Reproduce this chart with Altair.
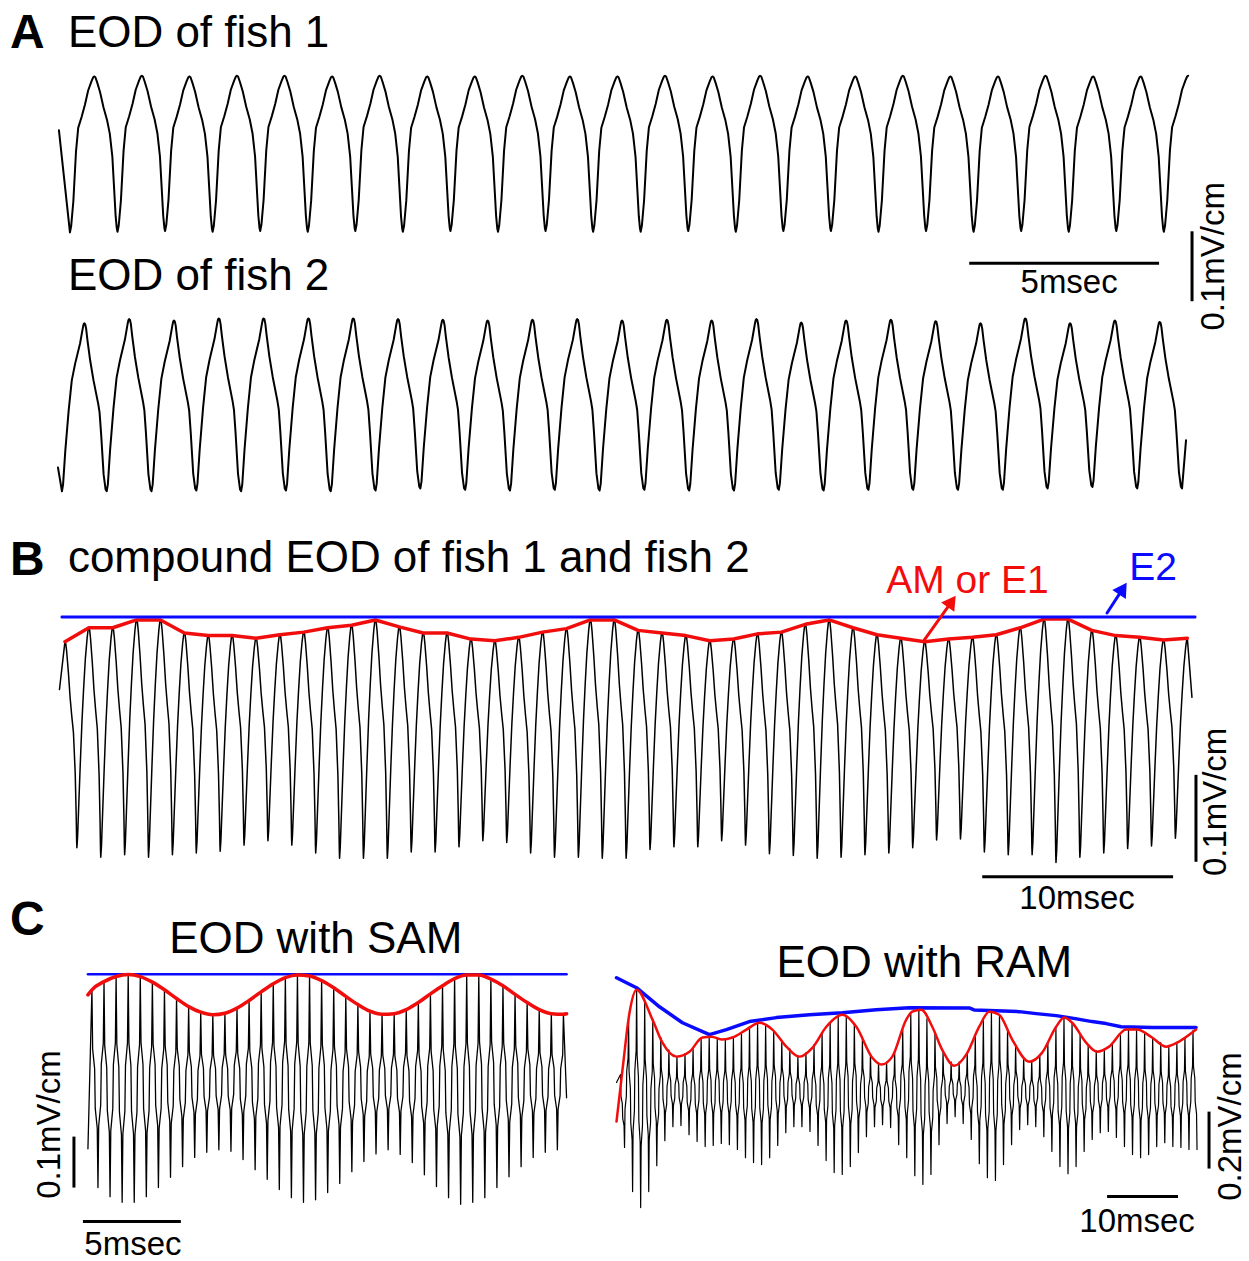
import altair as alt
import pandas as pd

FONT = "Liberation Sans"

# ====================== DATA ======================
# time in ms, field in mV/cm

# ---- Panel A: EOD of fish 1 (troughs then peaks) ----
fish1_t0 = 0.316          # first trough (ms)
fish1_period = 1.2526     # EOD period (ms)
fish1_peak_delay = 0.639  # peak after trough (ms)
fish1_trough = [-0.113, -0.112, -0.111, -0.112, -0.111, -0.112, -0.111, -0.112,
                -0.111, -0.112, -0.111, -0.112, -0.112, -0.111, -0.112, -0.111,
                -0.111, -0.112, -0.111, -0.112, -0.111, -0.112, -0.111, -0.112]
fish1_peak = [0.110, 0.111, 0.110, 0.111, 0.111, 0.110, 0.111, 0.110,
              0.110, 0.111, 0.110, 0.110, 0.111, 0.110, 0.111, 0.110,
              0.110, 0.111, 0.110, 0.110, 0.111, 0.110, 0.110, 0.111]
fish1_head = (0.026, 0.033)
fish1_rise = [(0, 0), (0.05, 0.04), (0.14, 0.20), (0.25, 0.52), (0.34, 0.67),
              (0.48, 0.74), (0.62, 0.82), (0.75, 0.91), (0.89, 0.97), (0.96, 0.995), (1, 1)]
fish1_fall = [(0, 1), (0.05, 0.995), (0.13, 0.96), (0.25, 0.90), (0.40, 0.80),
              (0.55, 0.72), (0.67, 0.63), (0.78, 0.48), (0.85, 0.29), (0.92, 0.10),
              (0.97, 0.02), (1, 0)]

# ---- Panel A: EOD of fish 2 ----
fish2_t0 = 0.105
fish2_period = 1.180
fish2_peak_delay = 0.589
fish2_trough = [-0.123, -0.123, -0.123, -0.122, -0.123, -0.122, -0.123, -0.122,
                -0.119, -0.121, -0.122, -0.121, -0.122, -0.121, -0.122, -0.122,
                -0.121, -0.122, -0.121, -0.121, -0.121, -0.121, -0.119, -0.117,
                -0.119, -0.119]
fish2_peak = [0.117, 0.123, 0.121, 0.124, 0.124, 0.124, 0.124, 0.123, 0.122,
              0.121, 0.122, 0.123, 0.121, 0.122, 0.121, 0.123, 0.118, 0.121,
              0.122, 0.120, 0.117, 0.124, 0.117, 0.121, 0.119]
fish2_head = (0.0, -0.089)
fish2_tail = (29.71, -0.050)
fish2_rise = [(0, 0), (0.05, 0.04), (0.15, 0.24), (0.30, 0.48), (0.44, 0.66),
              (0.59, 0.76), (0.81, 0.88), (0.93, 0.97), (0.97, 0.995), (1, 1)]
fish2_fall = [(0, 1), (0.04, 0.995), (0.08, 0.97), (0.14, 0.90), (0.26, 0.78), (0.41, 0.66),
              (0.62, 0.52), (0.68, 0.47), (0.75, 0.34), (0.86, 0.10), (0.95, 0.01), (1, 0)]

# ---- Panel B: compound EOD (peaks then troughs) ----
b_t0 = 0.3665
b_period = 1.2513
b_trough_delay = 0.6257
b_peak = [0.113, 0.129, 0.129, 0.138, 0.138, 0.123, 0.120, 0.120, 0.117, 0.121,
          0.124, 0.129, 0.132, 0.138, 0.130, 0.123, 0.123, 0.116, 0.114, 0.118,
          0.124, 0.128, 0.138, 0.138, 0.126, 0.123, 0.120, 0.114, 0.116, 0.122,
          0.124, 0.133, 0.138, 0.129, 0.121, 0.117, 0.113, 0.116, 0.118, 0.121,
          0.129, 0.139, 0.139, 0.126, 0.120, 0.118, 0.115, 0.117]
b_trough = [-0.124, -0.135, -0.132, -0.135, -0.132, -0.130, -0.128, -0.121, -0.116, -0.121,
            -0.130, -0.136, -0.136, -0.136, -0.129, -0.129, -0.123, -0.116, -0.118, -0.130,
            -0.135, -0.135, -0.136, -0.136, -0.126, -0.123, -0.123, -0.116, -0.121, -0.131,
            -0.133, -0.136, -0.135, -0.132, -0.130, -0.124, -0.115, -0.114, -0.129, -0.132,
            -0.132, -0.141, -0.135, -0.130, -0.125, -0.122, -0.113]
b_head = (0.079, 0.058)
b_tail = (59.42, 0.049)
b_e2_level = 0.1414
b_e2_span = (0.21, 59.58)
b_rise = [(0, 0), (0.06, 0.05), (0.14, 0.17), (0.29, 0.39), (0.43, 0.58),
          (0.57, 0.73), (0.71, 0.86), (0.86, 0.955), (0.95, 0.995), (1, 1)]
b_fall = [(0, 1), (0.07, 0.99), (0.14, 0.955), (0.29, 0.85), (0.43, 0.73),
          (0.57, 0.64), (0.71, 0.56), (0.86, 0.36), (0.94, 0.16), (0.98, 0.03), (1, 0)]

# ---- Panel C: waveform of the fast-sampled traces (steep strokes with mid-level jogs) ----
c_rise = [(0, 0), (0.12, 0.30), (0.45, 0.40), (0.55, 0.60), (0.88, 0.70), (1, 1)]
c_fall = [(0, 1), (0.12, 0.70), (0.45, 0.60), (0.55, 0.40), (0.88, 0.30), (1, 0)]

# ---- Panel C: EOD with SAM ----
sam_t0 = 0.204
sam_period = 0.6173
sam_trough_delay = 0.3087
sam_peak = [0.192, 0.208, 0.218, 0.222, 0.218, 0.207, 0.192, 0.175, 0.159, 0.148,
            0.143, 0.146, 0.156, 0.171, 0.188, 0.204, 0.216, 0.221, 0.219, 0.210,
            0.196, 0.179, 0.163, 0.150, 0.144, 0.145, 0.153, 0.167, 0.184, 0.200,
            0.214, 0.221, 0.221, 0.213, 0.200, 0.183, 0.167, 0.153, 0.145, 0.144]
sam_trough = [-0.196, -0.214, -0.225, -0.225, -0.214, -0.196, -0.176, -0.155, -0.137, -0.127,
              -0.122, -0.125, -0.141, -0.161, -0.180, -0.200, -0.216, -0.225, -0.220, -0.206,
              -0.188, -0.165, -0.145, -0.130, -0.122, -0.131, -0.147, -0.171, -0.194, -0.216,
              -0.229, -0.225, -0.216, -0.196, -0.175, -0.155, -0.137, -0.127, -0.122]
sam_head = (0.0, -0.120)
sam_tail = (24.44, -0.020)
sam_env_head = (0.0, 0.182)
sam_env_tail = (24.44, 0.145)
sam_e2_level = 0.2225
sam_e2_span = (0.0, 24.44)

# ---- Panel C: EOD with RAM ----
ram_t0 = 0.563
ram_period = 1.1366
ram_trough_delay = 0.568
ram_peak = [0.088, 0.281, 0.386, 0.340, 0.281, 0.218, 0.175, 0.151, 0.161, 0.182,
            0.214, 0.221, 0.214, 0.211, 0.218, 0.235, 0.253, 0.267, 0.260, 0.242,
            0.207, 0.179, 0.154, 0.165, 0.193, 0.235, 0.267, 0.291, 0.291, 0.263,
            0.214, 0.161, 0.130, 0.133, 0.168, 0.246, 0.302, 0.316, 0.284, 0.232,
            0.168, 0.133, 0.133, 0.165, 0.228, 0.281, 0.309, 0.298, 0.246, 0.189,
            0.147, 0.137, 0.158, 0.200, 0.249, 0.288, 0.270, 0.232, 0.193, 0.172,
            0.175, 0.196, 0.225, 0.246, 0.246, 0.232, 0.218, 0.200, 0.186, 0.200,
            0.218, 0.242]
ram_trough = [-0.168, -0.323, -0.379, -0.323, -0.232, -0.144, -0.095, -0.091, -0.123, -0.147,
              -0.165, -0.161, -0.154, -0.158, -0.175, -0.204, -0.221, -0.228, -0.204, -0.161,
              -0.116, -0.095, -0.095, -0.112, -0.161, -0.214, -0.256, -0.263, -0.235, -0.186,
              -0.130, -0.095, -0.088, -0.098, -0.158, -0.204, -0.267, -0.298, -0.263, -0.158,
              -0.084, -0.060, -0.084, -0.140, -0.225, -0.274, -0.284, -0.228, -0.158, -0.105,
              -0.088, -0.095, -0.130, -0.182, -0.235, -0.260, -0.235, -0.182, -0.140, -0.116,
              -0.112, -0.133, -0.165, -0.193, -0.204, -0.193, -0.165, -0.151, -0.165, -0.168,
              -0.175, -0.175]
ram_head = (0.0, 0.060)
ram_am_t = [0.0, 0.845, 1.831, 2.817, 5.07, 6.479, 8.451, 10.282, 12.113, 13.38,
            14.93, 16.338, 18.31, 20.141, 21.972, 23.944, 25.775, 27.606, 29.577, 31.831,
            33.803, 36.056, 37.324, 38.873, 40.845, 41.69, 42.958, 44.507, 45.915, 47.606,
            49.296, 51.127, 52.535, 53.944, 55.775, 58.169, 60.0, 61.972, 63.099, 64.225,
            66.197, 67.746, 69.437, 71.831, 73.38, 75.493, 77.465, 79.296, 81.69]
ram_am_v = [-0.077, 0.105, 0.305, 0.386, 0.281, 0.200, 0.151, 0.168, 0.218, 0.221,
            0.211, 0.218, 0.246, 0.270, 0.246, 0.186, 0.151, 0.182, 0.256, 0.298,
            0.256, 0.147, 0.123, 0.151, 0.281, 0.309, 0.316, 0.256, 0.175, 0.119,
            0.158, 0.256, 0.309, 0.298, 0.211, 0.133, 0.165, 0.256, 0.288, 0.270,
            0.200, 0.168, 0.186, 0.246, 0.246, 0.218, 0.186, 0.204, 0.246]
ram_e2_t = [0.0, 2.817, 6.056, 9.296, 13.099, 15.493, 18.732, 22.535, 27.183, 31.831,
            36.62, 41.268, 49.718, 50.4, 56.761, 59.155, 61.972, 63.803, 67.042, 69.014,
            71.127, 75.493, 81.69]
ram_e2_v = [0.428, 0.393, 0.326, 0.270, 0.228, 0.246, 0.274, 0.288, 0.298, 0.305,
            0.316, 0.323, 0.322, 0.315, 0.309, 0.302, 0.295, 0.288, 0.274, 0.267,
            0.256, 0.253, 0.253]

# scale-bar sizes
A_TIME_BAR, A_FIELD_BAR = 5.0, 0.1
B_TIME_BAR, B_FIELD_BAR = 10.0, 0.1
SAM_TIME_BAR, SAM_FIELD_BAR = 5.0, 0.1
RAM_TIME_BAR, RAM_FIELD_BAR = 10.0, 0.2


# ====================== helpers ======================
def extremes(t0, period, delay, first_vals, second_vals):
    pts = []
    for k in range(max(len(first_vals), len(second_vals))):
        if k < len(first_vals):
            pts.append((t0 + k * period, first_vals[k]))
        if k < len(second_vals):
            pts.append((t0 + k * period + delay, second_vals[k]))
    return pts


def waveform(ext, first_is_peak, rise, fall, head=None, tail=None):
    pts = [head] if head else []
    for i in range(len(ext) - 1):
        (t0, v0), (t1, v1) = ext[i], ext[i + 1]
        from_peak = (i % 2 == 0) == first_is_peak
        for u, s in (fall if from_peak else rise)[:-1]:
            t = t0 + u * (t1 - t0)
            v = v1 + s * (v0 - v1) if from_peak else v0 + s * (v1 - v0)
            pts.append((t, v))
    pts.append(ext[-1])
    if tail:
        pts.append(tail)
    df = pd.DataFrame(pts, columns=["t", "v"])
    df["i"] = range(len(df))
    return df


def series(ts, vs):
    df = pd.DataFrame({"t": ts, "v": vs})
    df["i"] = range(len(df))
    return df


class Panel:
    def __init__(self, xdom, ydom, width, height):
        self.xs = alt.Scale(domain=xdom, zero=False, nice=False)
        self.ys = alt.Scale(domain=ydom, zero=False, nice=False)
        self.w, self.h = width, height
        self.layers = []

    def _xy(self):
        return dict(x=alt.X("t:Q", scale=self.xs, axis=None),
                    y=alt.Y("v:Q", scale=self.ys, axis=None))

    def line(self, df, color="black", width=1.5, interp="linear"):
        self.layers.append(
            alt.Chart(df).mark_line(color=color, strokeWidth=width, interpolate=interp,
                                    strokeJoin="round", strokeCap="round")
            .encode(order="i:Q", **self._xy()))

    def text(self, t, v, label, size, color="black", weight="normal",
             align="left", baseline="alphabetic", angle=0):
        df = pd.DataFrame({"t": [t], "v": [v], "label": [label]})
        self.layers.append(
            alt.Chart(df).mark_text(font=FONT, fontSize=size, fontWeight=weight, color=color,
                                    align=align, baseline=baseline, angle=angle)
            .encode(text="label:N", **self._xy()))

    def rule(self, t1, t2, v1, v2, color="black", width=3):
        df = pd.DataFrame({"t": [t1], "t2": [t2], "v": [v1], "v2": [v2]})
        self.layers.append(
            alt.Chart(df).mark_rule(color=color, strokeWidth=width)
            .encode(x2="t2:Q", y2="v2:Q", **self._xy()))

    def arrow(self, t1, v1, t2, v2, angle, color):
        self.line(series([t1, t2], [v1, v2]), color=color, width=3)
        df = pd.DataFrame({"t": [t2], "v": [v2]})
        self.layers.append(
            alt.Chart(df).mark_point(shape="triangle-up", filled=True, size=260, angle=angle,
                                     color=color, opacity=1, strokeWidth=0)
            .encode(**self._xy()))

    def chart(self):
        return alt.layer(*self.layers).properties(width=self.w, height=self.h)


RED = "#f20d0d"
BLUE = "#0a0aff"

# ====================== Panel A (two rows) ======================
A_X = [-1.5263, 31.342]
a1 = Panel(A_X, [-0.15286, 0.21857], 1249, 260)
f1_ext = extremes(fish1_t0, fish1_period, fish1_peak_delay, fish1_trough, fish1_peak)
a1.line(waveform(f1_ext, False, fish1_rise, fish1_fall, head=fish1_head), width=2)
a1.text(-1.263, 0.150, "A", 48, weight="bold")
a1.text(0.263, 0.1514, "EOD of fish 1", 44)

a2 = Panel(A_X, [-0.15, 0.20714], 1249, 250)
f2_ext = extremes(fish2_t0, fish2_period, fish2_peak_delay, fish2_trough, fish2_peak)
a2.line(waveform(f2_ext, False, fish2_rise, fish2_fall, head=fish2_head, tail=fish2_tail), width=2)
a2.text(0.263, 0.1643, "EOD of fish 2", 44)
a2.rule(24.0, 24.0 + A_TIME_BAR, 0.2029, 0.2029)
a2.text(26.63, 0.160, "5msec", 33, align="center")
a2.rule(29.868, 29.868, 0.2486, 0.2486 - A_FIELD_BAR)
a2.text(30.447, 0.2129, "0.1mV/cm", 33, align="center", baseline="middle", angle=270)

# ====================== Panel B ======================
b = Panel([-3.0366, 62.356], [-0.1954, 0.26437], 1249, 400)
b_ext = extremes(b_t0, b_period, b_trough_delay, b_peak, b_trough)
b.line(waveform(b_ext, True, b_rise, b_fall, head=b_head, tail=b_tail), width=1.5)
b.line(series([b_t0 + k * b_period for k in range(len(b_peak))], b_peak), color=RED, width=3.5)
b.line(series(list(b_e2_span), [b_e2_level, b_e2_level]), color=BLUE, width=3)
b.text(-2.513, 0.1897, "B", 48, weight="bold")
b.text(0.5236, 0.1931, "compound EOD of fish 1 and fish 2", 44)
b.text(43.40, 0.169, "AM or E1", 39, color=RED)
b.text(56.13, 0.1839, "E2", 39, color=BLUE)
b.arrow(45.39, 0.1149, 46.83, 0.1592, 35, RED)
b.arrow(54.97, 0.1460, 55.80, 0.1740, 33, BLUE)
b.rule(59.63, 59.63, -0.0402, -0.0402 - B_FIELD_BAR)
b.text(60.68, -0.0713, "0.1mV/cm", 33, align="center", baseline="middle", angle=270)
b.rule(48.43, 48.43 + B_TIME_BAR, -0.1575, -0.1575)
b.text(53.40, -0.1943, "10msec", 33, align="center")

# ====================== Panel C: SAM ======================
sam = Panel([-4.4898, 26.1224], [-0.33922, 0.34902], 600, 351)
sam_ext = extremes(sam_t0, sam_period, sam_trough_delay, sam_peak, sam_trough)
sam.line(waveform(sam_ext, True, c_rise, c_fall, head=sam_head, tail=sam_tail), width=1.3)
sam_env_t = [sam_env_head[0]] + [sam_t0 + k * sam_period for k in range(len(sam_peak))] + [sam_env_tail[0]]
sam_env_v = [sam_env_head[1]] + sam_peak + [sam_env_tail[1]]
sam.line(series(list(sam_e2_span), [sam_e2_level, sam_e2_level]), color=BLUE, width=2.5)
sam.line(series(sam_env_t, sam_env_v), color=RED, width=3.5, interp="monotone")
sam.text(-3.98, 0.300, "C", 48, weight="bold")
sam.text(11.63, 0.2647, "EOD with SAM", 44, align="center")
sam.rule(-0.714, -0.714, -0.0961, -0.0961 - SAM_FIELD_BAR)
sam.text(-1.939, -0.0725, "0.1mV/cm", 33, align="center", baseline="middle", angle=270)
sam.rule(-0.255, -0.255 + SAM_TIME_BAR, -0.2627, -0.2627)
sam.text(2.296, -0.3275, "5msec", 33, align="center")

# ====================== Panel C: RAM ======================
ram = Panel([-2.3944, 89.014], [-0.56491, 0.66667], 649, 351)
ram_ext = extremes(ram_t0, ram_period, ram_trough_delay, ram_peak, ram_trough)
ram.line(waveform(ram_ext, True, c_rise, c_fall, head=ram_head), width=1.2)
ram.line(series(ram_e2_t, ram_e2_v), color=BLUE, width=3.5)
ram.line(series(ram_am_t, ram_am_v), color=RED, width=2.5, interp="monotone")
ram.text(43.38, 0.4316, "EOD with RAM", 44, align="center")
ram.rule(83.52, 83.52, -0.0421, -0.0421 - RAM_FIELD_BAR)
ram.text(86.62, -0.0947, "0.2mV/cm", 33, align="center", baseline="middle", angle=270)
ram.rule(69.15, 69.15 + RAM_TIME_BAR, -0.3404, -0.3404)
ram.text(73.38, -0.4632, "10msec", 33, align="center")

row_c = alt.hconcat(sam.chart(), ram.chart(), spacing=0, bounds="flush")

chart = alt.vconcat(a1.chart(), a2.chart(), b.chart(), row_c,
                    spacing=0, bounds="flush").properties(
    padding=0, background="white"
).configure_view(stroke=None)

chart.save("out.html", embed_options={"renderer": "svg", "actions": False})
